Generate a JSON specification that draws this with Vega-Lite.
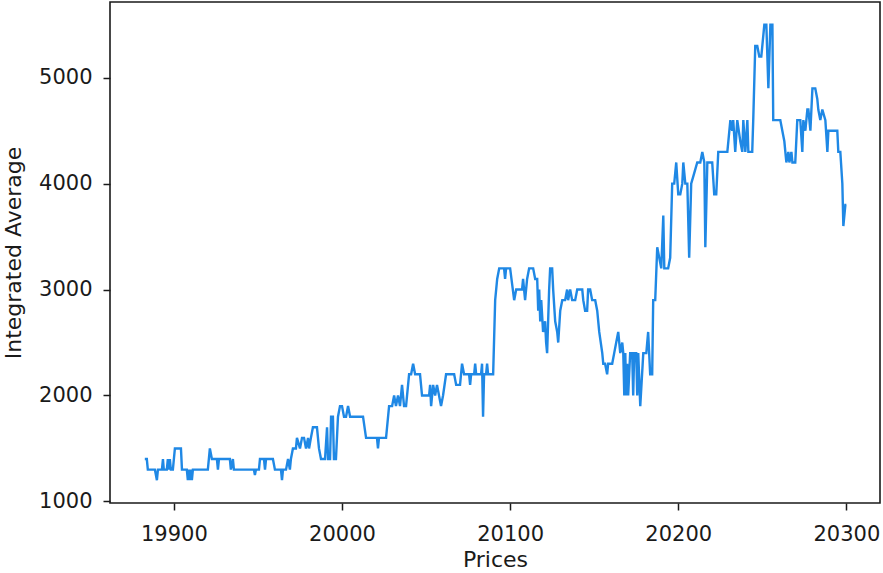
{
  "$schema": "https://vega.github.io/schema/vega-lite/v6.json",
  "autosize": "none",
  "width": 770,
  "height": 501,
  "padding": {"left": 110, "top": 2, "right": 3, "bottom": 70},
  "background": "white",
  "config": {
    "view": {"stroke": "#1a1a1a", "strokeWidth": 1.6},
    "axis": {
      "domain": false,
      "grid": false,
      "labelFont": "DejaVu Sans",
      "titleFont": "DejaVu Sans",
      "labelFontSize": 21,
      "titleFontSize": 22,
      "titleFontWeight": "normal",
      "labelColor": "#1a1a1a",
      "titleColor": "#1a1a1a",
      "tickColor": "#1a1a1a",
      "tickSize": 7,
      "tickWidth": 1.5
    }
  },
  "data": {
    "values": [
      {"p": 19882.7, "v": 1400}, {"p": 19883.9, "v": 1400}, {"p": 19884.5, "v": 1300}, {"p": 19888.7, "v": 1300},
      {"p": 19889.9, "v": 1200}, {"p": 19890.5, "v": 1300}, {"p": 19892.9, "v": 1300}, {"p": 19893.5, "v": 1400},
      {"p": 19894.0, "v": 1300}, {"p": 19895.8, "v": 1300}, {"p": 19896.4, "v": 1400}, {"p": 19897.0, "v": 1300},
      {"p": 19897.6, "v": 1400}, {"p": 19898.2, "v": 1300}, {"p": 19899.4, "v": 1300}, {"p": 19900.6, "v": 1500},
      {"p": 19904.2, "v": 1500}, {"p": 19904.8, "v": 1300}, {"p": 19907.7, "v": 1300}, {"p": 19908.3, "v": 1200},
      {"p": 19908.9, "v": 1300}, {"p": 19909.5, "v": 1200}, {"p": 19910.1, "v": 1300}, {"p": 19910.7, "v": 1200},
      {"p": 19911.3, "v": 1300}, {"p": 19920.2, "v": 1300}, {"p": 19921.4, "v": 1500}, {"p": 19922.6, "v": 1400},
      {"p": 19925.6, "v": 1400}, {"p": 19926.2, "v": 1300}, {"p": 19926.8, "v": 1400}, {"p": 19933.3, "v": 1400},
      {"p": 19933.9, "v": 1300}, {"p": 19935.1, "v": 1400}, {"p": 19935.7, "v": 1300}, {"p": 19947.6, "v": 1300},
      {"p": 19948.2, "v": 1250}, {"p": 19948.8, "v": 1300}, {"p": 19950.6, "v": 1300}, {"p": 19951.2, "v": 1400},
      {"p": 19953.6, "v": 1400}, {"p": 19954.2, "v": 1300}, {"p": 19954.8, "v": 1400}, {"p": 19958.9, "v": 1400},
      {"p": 19960.1, "v": 1300}, {"p": 19963.7, "v": 1300}, {"p": 19964.3, "v": 1200}, {"p": 19964.9, "v": 1300},
      {"p": 19966.7, "v": 1300}, {"p": 19967.9, "v": 1400}, {"p": 19969.0, "v": 1300}, {"p": 19969.6, "v": 1400},
      {"p": 19970.8, "v": 1500}, {"p": 19972.6, "v": 1500}, {"p": 19973.2, "v": 1600}, {"p": 19975.0, "v": 1500},
      {"p": 19976.2, "v": 1600}, {"p": 19977.4, "v": 1600}, {"p": 19978.6, "v": 1500}, {"p": 19979.8, "v": 1600},
      {"p": 19980.4, "v": 1500}, {"p": 19981.5, "v": 1600}, {"p": 19982.7, "v": 1700}, {"p": 19985.1, "v": 1700},
      {"p": 19986.3, "v": 1500}, {"p": 19987.5, "v": 1400}, {"p": 19988.7, "v": 1400}, {"p": 19989.9, "v": 1400},
      {"p": 19991.1, "v": 1700}, {"p": 19991.7, "v": 1400}, {"p": 19992.9, "v": 1400}, {"p": 19993.5, "v": 1800},
      {"p": 19994.6, "v": 1800}, {"p": 19995.2, "v": 1400}, {"p": 19996.4, "v": 1400}, {"p": 19997.6, "v": 1800},
      {"p": 19998.8, "v": 1900}, {"p": 20000.0, "v": 1900}, {"p": 20001.2, "v": 1800}, {"p": 20002.4, "v": 1800},
      {"p": 20003.6, "v": 1900}, {"p": 20004.8, "v": 1800}, {"p": 20012.5, "v": 1800}, {"p": 20014.3, "v": 1600},
      {"p": 20020.8, "v": 1600}, {"p": 20021.4, "v": 1500}, {"p": 20022.0, "v": 1600}, {"p": 20026.2, "v": 1600},
      {"p": 20028.0, "v": 1900}, {"p": 20029.8, "v": 1900}, {"p": 20031.0, "v": 2000}, {"p": 20032.1, "v": 1900},
      {"p": 20033.3, "v": 2000}, {"p": 20034.5, "v": 1900}, {"p": 20035.7, "v": 2100}, {"p": 20036.9, "v": 1900},
      {"p": 20038.1, "v": 1900}, {"p": 20039.9, "v": 2200}, {"p": 20041.1, "v": 2200}, {"p": 20042.3, "v": 2300},
      {"p": 20043.5, "v": 2200}, {"p": 20046.4, "v": 2200}, {"p": 20047.6, "v": 2000}, {"p": 20051.8, "v": 2000},
      {"p": 20052.4, "v": 2100}, {"p": 20053.0, "v": 1900}, {"p": 20054.2, "v": 2100}, {"p": 20055.4, "v": 2000},
      {"p": 20056.5, "v": 2100}, {"p": 20057.7, "v": 2000}, {"p": 20058.9, "v": 1900}, {"p": 20060.1, "v": 2000},
      {"p": 20061.9, "v": 2200}, {"p": 20066.7, "v": 2200}, {"p": 20067.9, "v": 2100}, {"p": 20070.2, "v": 2100},
      {"p": 20071.4, "v": 2300}, {"p": 20072.6, "v": 2200}, {"p": 20075.6, "v": 2200}, {"p": 20076.2, "v": 2100},
      {"p": 20076.8, "v": 2200}, {"p": 20078.6, "v": 2200}, {"p": 20079.2, "v": 2300}, {"p": 20079.8, "v": 2200},
      {"p": 20082.7, "v": 2200}, {"p": 20083.3, "v": 2300}, {"p": 20083.9, "v": 1800}, {"p": 20084.5, "v": 2200},
      {"p": 20085.7, "v": 2200}, {"p": 20086.3, "v": 2300}, {"p": 20086.9, "v": 2200}, {"p": 20089.9, "v": 2200},
      {"p": 20091.1, "v": 2900}, {"p": 20092.3, "v": 3100}, {"p": 20093.5, "v": 3200}, {"p": 20096.4, "v": 3200},
      {"p": 20097.0, "v": 3100}, {"p": 20097.6, "v": 3200}, {"p": 20100.0, "v": 3200}, {"p": 20102.4, "v": 2900},
      {"p": 20103.6, "v": 3000}, {"p": 20107.1, "v": 3000}, {"p": 20107.7, "v": 3100}, {"p": 20108.9, "v": 2900},
      {"p": 20110.1, "v": 3100}, {"p": 20111.3, "v": 3200}, {"p": 20113.7, "v": 3200}, {"p": 20114.9, "v": 3100},
      {"p": 20116.1, "v": 3100}, {"p": 20116.7, "v": 2800}, {"p": 20117.3, "v": 3000}, {"p": 20117.9, "v": 2700},
      {"p": 20118.5, "v": 2900}, {"p": 20119.6, "v": 2600}, {"p": 20120.8, "v": 2700}, {"p": 20121.4, "v": 2500},
      {"p": 20122.0, "v": 2400}, {"p": 20123.2, "v": 3000}, {"p": 20123.8, "v": 3200}, {"p": 20125.0, "v": 3200},
      {"p": 20125.6, "v": 3000}, {"p": 20126.8, "v": 2700}, {"p": 20128.0, "v": 2600}, {"p": 20128.6, "v": 2500},
      {"p": 20129.8, "v": 2800}, {"p": 20131.0, "v": 2900}, {"p": 20132.7, "v": 2900}, {"p": 20133.9, "v": 3000},
      {"p": 20134.5, "v": 2900}, {"p": 20135.7, "v": 3000}, {"p": 20136.9, "v": 2900}, {"p": 20138.7, "v": 2900},
      {"p": 20139.9, "v": 3000}, {"p": 20142.9, "v": 3000}, {"p": 20143.5, "v": 2900}, {"p": 20144.6, "v": 2800},
      {"p": 20145.8, "v": 2800}, {"p": 20146.4, "v": 3000}, {"p": 20147.6, "v": 3000}, {"p": 20148.8, "v": 2900},
      {"p": 20150.6, "v": 2900}, {"p": 20151.8, "v": 2800}, {"p": 20153.0, "v": 2600}, {"p": 20154.8, "v": 2400},
      {"p": 20155.4, "v": 2300}, {"p": 20156.5, "v": 2300}, {"p": 20157.7, "v": 2200}, {"p": 20158.3, "v": 2300},
      {"p": 20160.7, "v": 2300}, {"p": 20161.9, "v": 2400}, {"p": 20163.1, "v": 2500}, {"p": 20164.3, "v": 2600},
      {"p": 20165.5, "v": 2400}, {"p": 20166.7, "v": 2500}, {"p": 20167.3, "v": 2400}, {"p": 20167.9, "v": 2000},
      {"p": 20168.5, "v": 2400}, {"p": 20169.0, "v": 2000}, {"p": 20169.6, "v": 2300}, {"p": 20170.2, "v": 2000},
      {"p": 20171.4, "v": 2400}, {"p": 20172.6, "v": 2400}, {"p": 20173.2, "v": 2000}, {"p": 20173.8, "v": 2400},
      {"p": 20175.0, "v": 2400}, {"p": 20175.6, "v": 2000}, {"p": 20176.2, "v": 2400}, {"p": 20177.4, "v": 1900},
      {"p": 20179.2, "v": 2400}, {"p": 20181.0, "v": 2400}, {"p": 20182.1, "v": 2600}, {"p": 20183.3, "v": 2200},
      {"p": 20184.5, "v": 2200}, {"p": 20185.1, "v": 2900}, {"p": 20186.3, "v": 2900}, {"p": 20187.5, "v": 3400},
      {"p": 20188.7, "v": 3300}, {"p": 20189.9, "v": 3200}, {"p": 20191.1, "v": 3700}, {"p": 20191.7, "v": 3200},
      {"p": 20194.0, "v": 3200}, {"p": 20195.2, "v": 3300}, {"p": 20196.4, "v": 4000}, {"p": 20197.6, "v": 4000},
      {"p": 20198.8, "v": 4200}, {"p": 20200.0, "v": 3900}, {"p": 20201.2, "v": 3900}, {"p": 20202.4, "v": 4000},
      {"p": 20203.0, "v": 4200}, {"p": 20204.2, "v": 4000}, {"p": 20205.4, "v": 4000}, {"p": 20206.5, "v": 3300},
      {"p": 20207.7, "v": 4000}, {"p": 20209.5, "v": 4100}, {"p": 20211.3, "v": 4200}, {"p": 20213.1, "v": 4200},
      {"p": 20214.3, "v": 4300}, {"p": 20215.5, "v": 4200}, {"p": 20216.1, "v": 3400}, {"p": 20217.3, "v": 4200},
      {"p": 20220.2, "v": 4200}, {"p": 20221.4, "v": 3900}, {"p": 20222.6, "v": 3900}, {"p": 20223.8, "v": 4300},
      {"p": 20229.2, "v": 4300}, {"p": 20230.4, "v": 4500}, {"p": 20231.0, "v": 4600}, {"p": 20232.1, "v": 4500},
      {"p": 20232.7, "v": 4600}, {"p": 20233.9, "v": 4300}, {"p": 20235.1, "v": 4600}, {"p": 20236.9, "v": 4400},
      {"p": 20238.1, "v": 4300}, {"p": 20238.7, "v": 4600}, {"p": 20239.9, "v": 4300}, {"p": 20241.1, "v": 4600},
      {"p": 20241.7, "v": 4300}, {"p": 20244.0, "v": 4300}, {"p": 20244.6, "v": 4600}, {"p": 20245.8, "v": 5300},
      {"p": 20247.0, "v": 5300}, {"p": 20248.2, "v": 5200}, {"p": 20249.4, "v": 5200}, {"p": 20250.0, "v": 5300},
      {"p": 20251.2, "v": 5500}, {"p": 20252.4, "v": 5500}, {"p": 20253.6, "v": 4900}, {"p": 20254.8, "v": 5500},
      {"p": 20256.0, "v": 5500}, {"p": 20256.5, "v": 4600}, {"p": 20260.7, "v": 4600}, {"p": 20261.9, "v": 4500},
      {"p": 20263.1, "v": 4400}, {"p": 20264.3, "v": 4200}, {"p": 20265.5, "v": 4300}, {"p": 20266.1, "v": 4200},
      {"p": 20267.3, "v": 4300}, {"p": 20267.9, "v": 4200}, {"p": 20269.6, "v": 4200}, {"p": 20270.8, "v": 4600},
      {"p": 20272.6, "v": 4600}, {"p": 20273.8, "v": 4300}, {"p": 20274.4, "v": 4600}, {"p": 20275.6, "v": 4500},
      {"p": 20276.8, "v": 4700}, {"p": 20277.4, "v": 4700}, {"p": 20278.6, "v": 4500}, {"p": 20279.8, "v": 4900},
      {"p": 20281.5, "v": 4900}, {"p": 20282.7, "v": 4800}, {"p": 20283.3, "v": 4700}, {"p": 20284.5, "v": 4600},
      {"p": 20285.7, "v": 4700}, {"p": 20287.5, "v": 4600}, {"p": 20288.7, "v": 4300}, {"p": 20289.3, "v": 4500},
      {"p": 20294.6, "v": 4500}, {"p": 20295.2, "v": 4300}, {"p": 20296.4, "v": 4300}, {"p": 20297.6, "v": 4000},
      {"p": 20298.2, "v": 3600}, {"p": 20299.4, "v": 3800}, {"p": 20300.0, "v": 3800}
    ]
  },
  "mark": {"type": "line", "color": "#1f88e5", "strokeWidth": 2.4, "clip": true},
  "encoding": {
    "x": {
      "field": "p",
      "type": "quantitative",
      "title": "Prices",
      "scale": {"domain": [19862, 20320], "nice": false, "zero": false},
      "axis": {"values": [19900, 20000, 20100, 20200, 20300], "format": "d", "labelPadding": 13, "titlePadding": 5}
    },
    "y": {
      "field": "v",
      "type": "quantitative",
      "title": "Integrated Average",
      "scale": {"domain": [985, 5715], "nice": false, "zero": false},
      "axis": {"values": [1000, 2000, 3000, 4000, 5000], "format": "d", "labelPadding": 11, "titlePadding": 13}
    }
  }
}
